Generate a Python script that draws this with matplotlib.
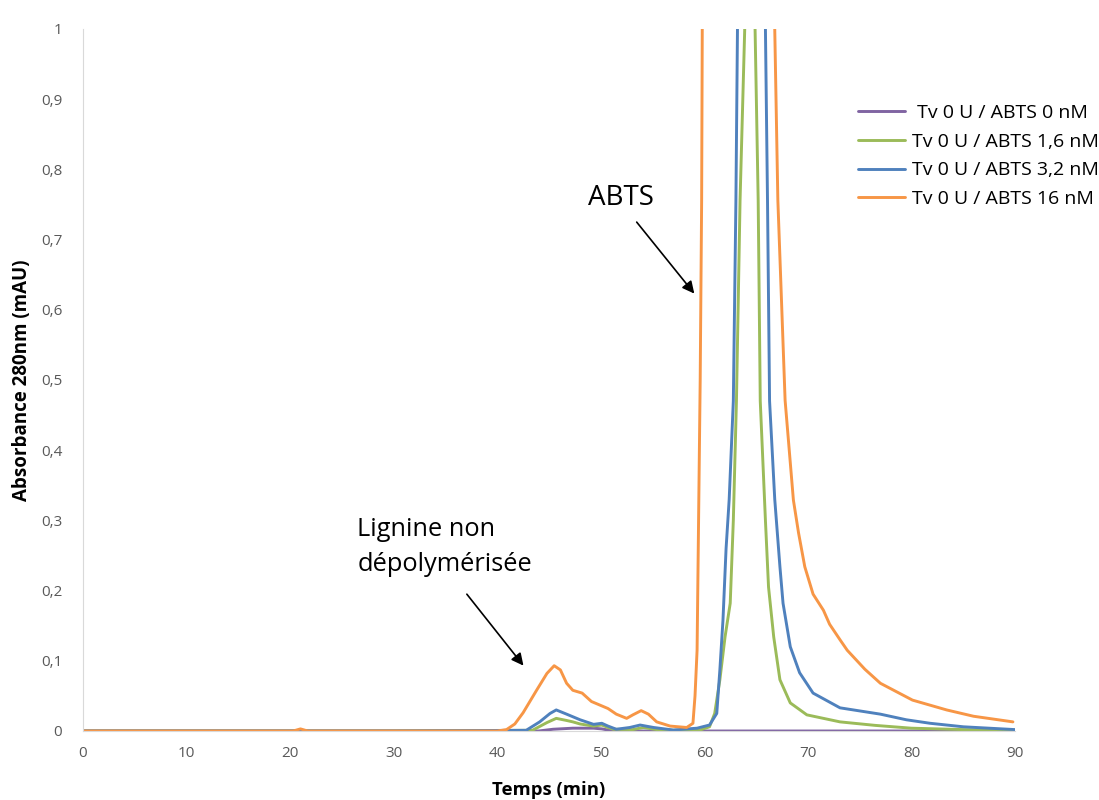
import matplotlib
matplotlib.use("Agg")
import matplotlib.pyplot as plt

# ---------------- data ----------------
labels = [" Tv 0 U / ABTS 0 nM", "Tv 0 U / ABTS 1,6 nM",
          "Tv 0 U / ABTS 3,2 nM", "Tv 0 U / ABTS 16 nM"]
colors = ["#8064A2", "#9BBB59", "#4F81BD", "#F79646"]

x_0nM = [0, 44, 45.4, 47.3, 49.3, 50.1, 51.2, 90]
y_0nM = [0, 0, 0.0025, 0.004, 0.004, 0.003, 0, 0]

x_1_6 = [0, 30, 43.4, 44.8, 45.7, 46.7, 47.3, 48.0, 49.3, 50.1, 50.7, 51.2,
         53.1, 54.1, 55.4, 57, 59.5, 60.5, 61.0, 61.5, 62.0, 62.5, 62.8,
         63.1, 63.45, 63.9, 64.4, 64.9, 65.2, 65.4, 65.9, 66.2, 66.7, 67.3,
         68.3, 69.9, 73.1, 76.5, 80, 85, 90]
y_1_6 = [0, 0, 0.001, 0.012, 0.018, 0.015, 0.013, 0.010, 0.007, 0.0085,
         0.005, 0.0025, 0.002, 0.005, 0.002, 0.001, 0.001, 0.006, 0.025,
         0.073, 0.134, 0.182, 0.30, 0.47, 0.756, 1.0, 1.6, 1.0, 0.756, 0.47,
         0.30, 0.205, 0.134, 0.073, 0.040, 0.023, 0.013, 0.008, 0.004, 0.002,
         0.001]

x_3_2 = [0, 30, 42.8, 44.1, 45.1, 45.7, 46.7, 48.0, 49.3, 50.1, 50.7, 51.5,
         52.8, 53.8, 55.1, 57, 59.3, 60.5, 61.2, 61.5, 61.8, 62.1, 62.4,
         62.8, 63.05, 63.2, 64.5, 65.9, 66.1, 66.3, 66.8, 67.3, 67.6, 68.3,
         69.2, 70.5, 73.1, 77.0, 79.5, 81.8, 85.0, 90]
y_3_2 = [0, 0, 0.001, 0.013, 0.025, 0.030, 0.024, 0.016, 0.0095, 0.011,
         0.007, 0.0025, 0.005, 0.0085, 0.005, 0.0014, 0.004, 0.0085, 0.025,
         0.087, 0.158, 0.26, 0.33, 0.47, 0.756, 1.0, 2.5, 1.0, 0.756, 0.47,
         0.33, 0.234, 0.182, 0.12, 0.083, 0.054, 0.033, 0.024, 0.016, 0.011,
         0.006, 0.002]

x_16 = [0, 20.3, 21, 21.7, 40, 40.9, 41.7, 42.5, 43.8, 44.8, 45.5, 46.1,
        46.7, 47.3, 48.2, 49.1, 49.9, 50.7, 51.5, 52.5, 53.1, 53.9, 54.6,
        55.4, 56.7, 58.3, 58.9, 59.1, 59.3, 59.6, 59.74, 59.8, 61.0, 63.5,
        66.0, 66.8, 67.1, 67.8, 68.6, 69.1, 69.7, 70.5, 71.5, 72.1, 73.1,
        73.8, 75.5, 77.0, 80.1, 83.4, 86.0, 89.8]
y_16 = [0, 0, 0.003, 0, 0, 0.002, 0.01, 0.026, 0.058, 0.082, 0.093, 0.087,
        0.068, 0.058, 0.054, 0.042, 0.037, 0.032, 0.024, 0.018, 0.023, 0.029,
        0.024, 0.013, 0.007, 0.005, 0.011, 0.05, 0.115, 0.5, 0.756, 1.0, 2.0,
        4.0, 2.0, 1.0, 0.756, 0.471, 0.329, 0.282, 0.234, 0.195, 0.172,
        0.152, 0.13, 0.115, 0.088, 0.068, 0.044, 0.030, 0.021, 0.013]

xticks = [0, 10, 20, 30, 40, 50, 60, 70, 80, 90]
yticks = [0, 0.1, 0.2, 0.3, 0.4, 0.5, 0.6, 0.7, 0.8, 0.9, 1.0]
yticklabels = ["0", "0,1", "0,2", "0,3", "0,4", "0,5", "0,6", "0,7", "0,8", "0,9", "1"]

# ---------------- figure ----------------
plt.rcParams['font.family'] = ['Open Sans', 'DejaVu Sans']
fig = plt.figure(figsize=(10.99, 8.0), dpi=100)
ax = fig.add_axes([83/1099, 1-731/800, (1015-83)/1099, (731-29)/800])

series = [(x_0nM, y_0nM), (x_1_6, y_1_6), (x_3_2, y_3_2), (x_16, y_16)]
handles = []
for (xs, ys), c, lab in zip(series, colors, labels):
    h, = ax.plot(xs, ys, color=c, lw=2.1, label=lab,
                 solid_joinstyle='round', solid_capstyle='round')
    handles.append(h)

ax.set_xlim(0, 90)
ax.set_ylim(0, 1)
ax.set_xticks(xticks)
ax.set_xticklabels([str(t) for t in xticks])
ax.set_yticks(yticks)
ax.set_yticklabels(yticklabels)
ax.tick_params(length=0, labelsize=11, labelcolor="#595959")
ax.tick_params(axis="y", pad=15)
ax.tick_params(axis="x", pad=11)
for s in ["top", "right"]:
    ax.spines[s].set_visible(False)
ax.spines["left"].set_color("#D9D9D9")
ax.spines["bottom"].set_color("#D9D9D9")

ax.set_xlabel("Temps (min)", fontsize=13.3, fontweight="bold", labelpad=14)
ax.set_ylabel("Absorbance 280nm (mAU)", fontsize=13.5, fontweight="bold", labelpad=6)

# annotations
ax.annotate("", xy=(59.2, 0.62), xytext=(53.3, 0.728),
            arrowprops=dict(arrowstyle="-|>", color="black", lw=1.2,
                            mutation_scale=18))
ax.text(48.8, 0.759, "ABTS", fontsize=20, ha="left", va="center")
ax.annotate("", xy=(42.7, 0.09), xytext=(36.9, 0.198),
            arrowprops=dict(arrowstyle="-|>", color="black", lw=1.2,
                            mutation_scale=18))
ax.text(26.5, 0.262, "Lignine non\ndépolymérisée", fontsize=18.3,
        ha="left", va="center", linespacing=1.5)

fig.legend(handles=handles, labels=labels, loc="upper left",
           bbox_to_anchor=(858/1099, 1-104/800), frameon=False,
           fontsize=14, handlelength=2.4, labelspacing=0.55,
           handletextpad=0.4, borderaxespad=0, borderpad=0)

fig.savefig("out.png", dpi=100)
